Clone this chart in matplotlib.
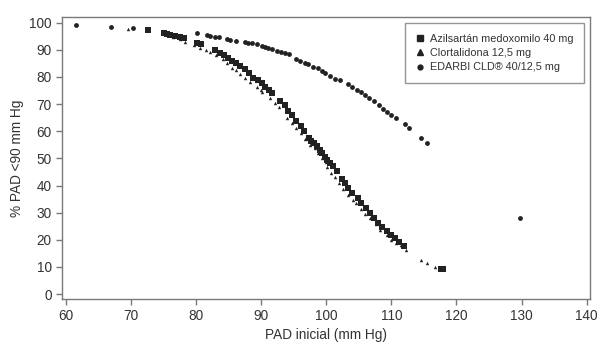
import matplotlib
matplotlib.use("Agg")
import matplotlib.pyplot as plt
from matplotlib.lines import Line2D

plt.rcParams['font.family'] = ['Liberation Sans', 'DejaVu Sans']

# Azilsartán medoxomilo 40 mg (cuadrados)
azil_x = [72.6, 75.0, 75.5, 76.0, 76.7, 77.5, 78.2, 80.1, 80.8, 82.9, 83.7, 84.3, 84.9,
          85.5, 86.2, 86.8, 87.5, 88.2, 88.8, 89.5, 90.1, 90.6, 91.2, 91.7, 92.9, 93.6,
          94.1, 94.8, 95.4, 96.1, 96.6, 97.4, 97.7, 98.1, 98.5, 99.0, 99.3, 99.8, 100.1,
          100.6, 101.1, 101.6, 102.4, 102.9, 103.4, 104.0, 104.9, 105.3, 106.1, 106.7,
          107.4, 107.9, 108.6, 109.3, 109.9, 110.5, 111.2, 111.9, 117.6, 117.9]
azil_y = [97.3, 96.1, 95.7, 95.5, 95.2, 94.9, 94.5, 92.6, 92.3, 89.9, 88.9, 88.1, 86.9,
          85.9, 85.0, 84.0, 82.8, 81.3, 79.7, 78.9, 77.7, 76.4, 75.2, 74.0, 71.1, 69.7,
          67.5, 66.0, 63.8, 61.9, 60.1, 57.6, 56.4, 55.5, 54.6, 53.1, 51.9, 50.6, 49.4,
          48.4, 47.2, 45.3, 42.3, 41.0, 39.0, 37.1, 35.3, 33.4, 31.6, 29.7,
          27.9, 26.3, 24.8, 23.2, 21.7, 20.5, 19.3, 17.7, 9.2, 9.1]

# Clortalidona 12,5 mg (triángulos)
clor_x = [69.6, 76.5, 77.6, 78.3, 79.6, 80.6, 81.5, 82.1, 83.1, 84.1, 84.7, 85.5, 86.1,
          86.8, 87.5, 88.3, 89.3, 89.9, 90.1, 91.3, 92.1, 92.8, 93.9, 94.8, 95.3, 96.1,
          96.7, 97.5, 98.2, 98.8, 99.3, 100.0, 100.1, 100.7, 101.3, 101.9, 102.6, 103.4,
          104.1, 104.5, 105.4, 106.0, 106.7, 107.6, 108.3, 109.4, 110.0, 110.7, 111.5,
          112.2, 114.6, 115.4, 116.7, 117.4]
clor_y = [97.5, 94.6, 94.0, 93.0, 91.8, 90.6, 89.9, 89.3, 88.1, 86.5, 85.0, 83.2, 82.6,
          81.1, 79.5, 78.3, 76.4, 75.2, 74.6, 72.1, 70.3, 68.8, 65.0, 62.9, 61.1, 59.2,
          57.0, 54.9, 53.7, 51.9, 50.0, 48.8, 46.7, 44.5, 43.0, 40.8, 38.6, 36.5,
          34.6, 33.7, 31.2, 29.5, 27.9, 25.7, 23.6, 21.7, 20.1, 18.9, 18.1,
          16.2, 12.5, 11.5, 9.8, 9.1]

# EDARBI CLD 40/12,5 mg (puntos)
edarbi_x = [61.5, 66.9, 70.3, 80.1, 81.6, 82.1, 82.9, 83.5, 84.7, 85.2, 86.1, 87.5, 88.0,
            88.6, 89.3, 90.1, 90.6, 91.1, 91.7, 92.4, 93.0, 93.6, 94.3, 95.4, 95.9, 96.7,
            97.2, 98.0, 98.8, 99.3, 99.8, 100.6, 101.3, 102.1, 103.4, 104.0, 104.7, 105.4,
            105.9, 106.6, 107.3, 108.1, 108.7, 109.4, 110.0, 110.7, 112.1, 112.7, 114.6,
            115.4, 129.8]
edarbi_y = [99.0, 98.4, 98.0, 96.3, 95.3, 95.1, 94.9, 94.6, 94.1, 93.8, 93.4, 93.0, 92.6,
            92.4, 92.0, 91.4, 91.2, 90.8, 90.2, 89.7, 89.2, 88.9, 88.5, 86.6, 85.9, 85.1,
            84.7, 83.8, 83.2, 82.2, 81.3, 80.4, 79.4, 78.9, 77.4, 76.3, 75.2, 74.5,
            73.4, 72.3, 71.1, 69.7, 68.2, 67.1, 66.0, 64.9, 62.7, 61.2, 57.5,
            55.7, 28.1]

labels = ['Azilsartán medoxomilo 40 mg', 'Clortalidona 12,5 mg', 'EDARBI CLD® 40/12,5 mg']

mk = '#222222'
grey = '#7a7a7a'
txt = '#333333'

fig = plt.figure(figsize=(6.11, 3.58), dpi=100)
ax = fig.add_axes([0.1015, 0.165, 0.864, 0.7875])

ax.scatter(clor_x, clor_y, marker='^', s=6, color=mk, linewidths=0)
ax.scatter(azil_x, azil_y, marker='s', s=17, color=mk, linewidths=0)
ax.scatter(edarbi_x, edarbi_y, marker='o', s=12, color=mk, linewidths=0)

ax.set_xlim(59.4, 140.5)
ax.set_ylim(-1.8, 102.1)
ax.set_xticks(range(60, 141, 10))
ax.set_yticks(range(0, 101, 10))

for s in ax.spines.values():
    s.set_color(grey)
    s.set_linewidth(1.0)
ax.tick_params(axis='both', colors=grey, labelcolor=txt, labelsize=9.8, length=4, width=1)

ax.set_xlabel('PAD inicial (mm Hg)', fontsize=9.8, color=txt, labelpad=3)
ax.set_ylabel('% PAD <90 mm Hg', fontsize=9.8, color=txt, labelpad=4)

handles = [Line2D([], [], ls='none', marker='s', ms=4.5, color=mk),
           Line2D([], [], ls='none', marker='^', ms=5, color=mk),
           Line2D([], [], ls='none', marker='o', ms=3.5, color=mk)]
leg = ax.legend(handles, labels, loc='upper right', bbox_to_anchor=(0.9886, 0.979),
                fontsize=7.8, frameon=True, fancybox=False, handlelength=0.8,
                handletextpad=0.5, borderpad=1.0, labelspacing=0.4, borderaxespad=0)
leg.get_frame().set_edgecolor(grey)
leg.get_frame().set_linewidth(1.0)
for t in leg.get_texts():
    t.set_color(txt)

fig.savefig('out.png', dpi=100)
